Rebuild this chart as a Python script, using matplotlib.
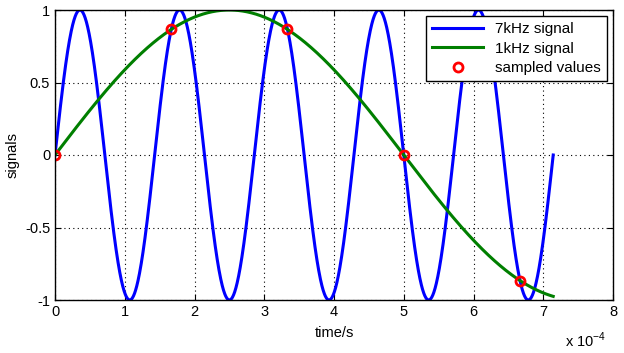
import numpy as np
import matplotlib
matplotlib.use("Agg")
import matplotlib.pyplot as plt

plt.rcParams['font.family'] = ['Liberation Sans', 'DejaVu Sans']
plt.rcParams['mathtext.fontset'] = 'custom'
plt.rcParams['mathtext.rm'] = 'Liberation Sans'

freq_fast_hz = 7000.0
freq_slow_hz = 1000.0
t_end_s = 5 / 7000.0          # curves end at ~7.14e-4 s
n_points = 2000

# sampled values (red circles)
sample_t = [0.0, 1.6667e-4, 3.3333e-4, 5.0e-4, 6.6667e-4]
sample_v = [0.0, 0.866, 0.866, 0.0, -0.866]

xticks = [0, 1, 2, 3, 4, 5, 6, 7, 8]
yticks = [-1, -0.5, 0, 0.5, 1]
ytick_labels = ['-1', '-0.5', '0', '0.5', '1']

t = np.linspace(0, t_end_s, n_points)
sig_fast = np.sin(2 * np.pi * freq_fast_hz * t)
sig_slow = np.sin(2 * np.pi * freq_slow_hz * t)

fig = plt.figure(figsize=(6.24, 3.53), dpi=100)
ax = fig.add_axes([55 / 624, 1 - 300 / 353, 558 / 624, 290 / 353])

scale = 1e4
ax.plot(t * scale, sig_fast, color='#0000ff', lw=2.2, label='7kHz signal')
ax.plot(t * scale, sig_slow, color='#007f00', lw=2.2, label='1kHz signal')
ax.plot(np.array(sample_t) * scale, sample_v, 'o', mfc='none', mec='#ff0000',
        mew=2, ms=6.5, label='sampled values')

ax.set_xlim(0, 8)
ax.set_ylim(-1, 1)
ax.set_xticks(xticks)
ax.set_yticks(yticks)
ax.set_yticklabels(ytick_labels)
ax.tick_params(direction='in', labelsize=10.5, length=4, top=True, right=True,
               labeltop=False, labelright=False)
ax.grid(True, linestyle=(0, (1, 3)), color='black', linewidth=0.8)
for s in ax.spines.values():
    s.set_linewidth(1.0)

ax.set_xlabel('time/s', fontsize=10.5, labelpad=5)
ax.set_ylabel('signals', fontsize=10.5, labelpad=4)
fig.text(606 / 624, 3 / 353, r'x 10$^{-4}$', fontsize=10.5,
         ha='right', va='bottom')

leg = ax.legend(loc='upper right', fontsize=11, frameon=True, fancybox=False,
                edgecolor='black', framealpha=1, handlelength=3.3,
                borderaxespad=0.4, labelspacing=0.35, borderpad=0.4)
leg.get_frame().set_linewidth(1.0)

fig.savefig('out.png', dpi=100)
